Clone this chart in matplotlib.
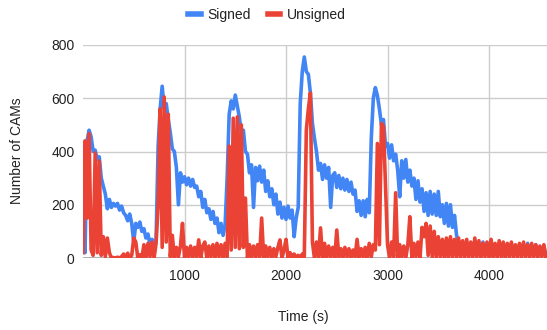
import numpy as np
import matplotlib
matplotlib.use("Agg")
from matplotlib import pyplot as plt

# sampled every 20 s, starting at t = 0
time_step = 20
signed = [
    230, 20, 440, 480, 455, 400, 405, 370, 380, 300,
    270, 240, 185, 220, 190, 205, 195, 205, 180, 195,
    170, 160, 140, 165, 130, 60, 130, 115, 135, 100,
    110, 75, 90, 50, 70, 55, 65, 420, 560, 645,
    560, 580, 520, 470, 410, 400, 340, 200, 320, 285,
    305, 275, 300, 270, 295, 265, 270, 230, 250, 190,
    220, 170, 185, 145, 175, 130, 150, 95, 130, 85,
    125, 300, 540, 590, 560, 612, 570, 530, 470, 480,
    400, 390, 320, 350, 190, 340, 290, 345, 285, 330,
    250, 290, 230, 260, 200, 240, 165, 210, 150, 190,
    145, 195, 150, 180, 80, 150, 190, 580, 700, 755,
    700, 690, 620, 505, 450, 400, 330, 355, 295, 350,
    300, 340, 190, 310, 320, 265, 310, 260, 300, 255,
    295, 250, 285, 240, 255, 175, 215, 160, 215, 155,
    220, 170, 450, 600, 640, 610, 560, 500, 520, 420,
    430, 375, 425, 365, 390, 330, 230, 365, 300, 370,
    285, 330, 270, 300, 220, 290, 210, 260, 175, 245,
    160, 250, 165, 240, 160, 250, 155, 200, 130, 205,
    120, 200, 115, 160, 85, 60, 40, 55, 20, 50,
    15, 45, 20, 55, 10, 40, 25, 60, 15, 45,
    20, 65, 10, 40, 25, 50, 15, 45, 5, 40,
    20, 55, 10, 45, 25, 50, 15, 40, 20, 55,
    10, 45, 20, 50, 15, 40, 25, 45, 10,
]
unsigned = [
    20, 440, 150, 467, 30, 10, 394, 20, 364, 10,
    80, 5, 75, 20, 0, 2, 0, 3, 0, 5,
    15, 0, 18, 0, 10, 75, 60, 0, 12, 0,
    50, 0, 55, 5, 60, 0, 55, 200, 560, 40,
    605, 60, 540, 5, 85, 0, 40, 5, 45, 130,
    0, 40, 5, 45, 0, 40, 5, 68, 0, 45,
    60, 0, 45, 5, 50, 0, 55, 5, 50, 0,
    55, 5, 420, 30, 525, 40, 530, 35, 500, 40,
    225, 0, 50, 5, 45, 0, 50, 5, 150, 0,
    45, 5, 40, 0, 35, 5, 40, 68, 0, 30,
    70, 0, 20, 3, 15, 0, 10, 0, 15, 5,
    480, 560, 620, 60, 0, 60, 5, 113, 0, 55,
    0, 45, 5, 40, 0, 105, 5, 35, 0, 40,
    5, 35, 0, 30, 5, 70, 0, 35, 5, 40,
    0, 55, 5, 50, 30, 430, 50, 505, 495, 267,
    50, 0, 60, 5, 245, 0, 50, 5, 45, 0,
    50, 155, 0, 55, 5, 60, 0, 115, 80, 130,
    10, 120, 5, 100, 0, 80, 5, 70, 0, 75,
    0, 80, 5, 70, 0, 75, 5, 65, 0, 70,
    5, 60, 0, 75, 5, 65, 0, 55, 5, 60,
    0, 70, 5, 55, 0, 65, 5, 60, 0, 55,
    5, 60, 0, 50, 5, 55, 0, 60, 5, 50,
    0, 55, 5, 50, 0, 45, 5, 50, 0,
]
x_ticks = [1000, 2000, 3000, 4000]
y_ticks = [0, 200, 400, 600, 800]

time_s = np.arange(len(signed)) * time_step

plt.rcParams['font.family'] = ['Liberation Sans', 'DejaVu Sans']
fig = plt.figure(figsize=(5.47, 3.30), dpi=100)
ax = fig.add_axes([83 / 547, 1 - 258 / 330, 464 / 547, 213 / 330])

# thick lines so the noisy traces read as bands, like the original
signed_line, = ax.plot(time_s, signed, color='#4285F4', lw=2.6, label='Signed')
unsigned_line, = ax.plot(time_s, unsigned, color='#EA4335', lw=2.6, label='Unsigned')

ax.set_xlim(0, 4571)
ax.set_ylim(0, 800)
ax.set_xticks(x_ticks)
ax.set_yticks(y_ticks)
ax.grid(True, color='#cccccc', lw=1)
ax.set_axisbelow(True)
for s in ax.spines.values():
    s.set_visible(False)
ax.axhline(0, color='#9e9e9e', lw=1.2, zorder=0.5)
ax.tick_params(length=0, labelsize=10, colors='#222222')
ax.tick_params(axis='y', pad=6)
ax.tick_params(axis='x', pad=8)

fig.text(17 / 547, 1 - 151 / 330, 'Number of CAMs', rotation=90,
         ha='center', va='center', fontsize=10, color='#222222')
fig.text(303 / 547, 1 - 317 / 330, 'Time (s)', ha='center', va='center',
         fontsize=10, color='#222222')

fig.legend(handles=[signed_line, unsigned_line], loc='center',
           bbox_to_anchor=(267 / 547, 1 - 15 / 330), ncol=2, frameon=False,
           fontsize=10, handlelength=0.9, handletextpad=0.5, columnspacing=1.2,
           labelcolor='#222222')
for h in fig.legends[0].legend_handles:
    h.set_linewidth(4)

fig.savefig('out.png', dpi=100)
